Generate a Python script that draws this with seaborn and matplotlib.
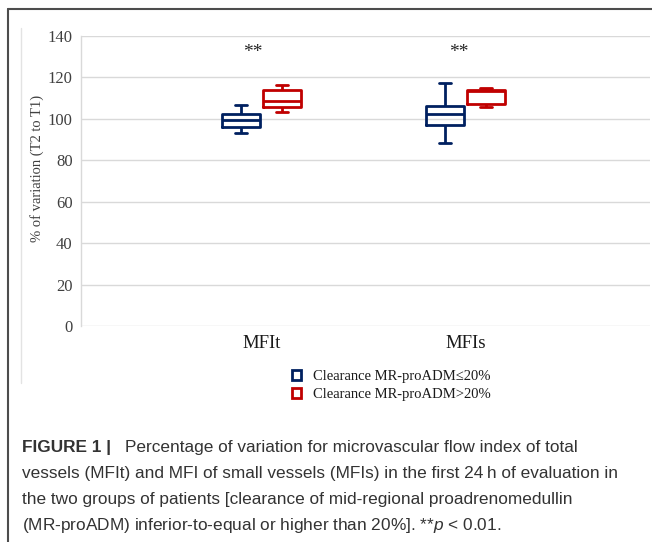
import matplotlib
matplotlib.use("Agg")
import matplotlib.pyplot as plt
from matplotlib.lines import Line2D
import pandas as pd
import seaborn as sns

# values (5-number summary per box: min, q1, median, q3, max)
categories = ['MFIt', 'MFIs']
groups = ['Clearance MR-proADM≤20%', 'Clearance MR-proADM>20%']
low_mfit = [93.2, 95.9, 99.6, 102.4, 106.5]
high_mfit = [103.3, 105.9, 108.6, 113.9, 116.5]
low_mfis = [88.4, 96.9, 102.5, 106.4, 117.3]
high_mfis = [106.0, 107.3, 113.3, 113.9, 114.9]
star_x = [-0.045, 0.965]
star_y = [132.0, 132.0]
star_text = ['**', '**']
y_ticks = [0, 20, 40, 60, 80, 100, 120, 140]

rows = []
for cat, grp, vals in [('MFIt', groups[0], low_mfit), ('MFIt', groups[1], high_mfit),
                       ('MFIs', groups[0], low_mfis), ('MFIs', groups[1], high_mfis)]:
    for v in vals:
        rows.append({'param': cat, 'group': grp, 'value': v})
df = pd.DataFrame(rows)

sns.set_theme(style='white')
plt.rcParams['font.family'] = ['Liberation Serif', 'DejaVu Serif']
plt.rcParams['mathtext.fontset'] = 'custom'
plt.rcParams['mathtext.it'] = 'Liberation Sans:italic'
plt.rcParams['mathtext.rm'] = 'Liberation Sans'

W, H = 652, 542
fig = plt.figure(figsize=(W / 100, H / 100), dpi=100)
fig.patch.set_facecolor('white')
ax = fig.add_axes([81 / W, 1 - 326.3 / H, (650 - 81) / W, (326.3 - 36) / H])

pal = {groups[0]: '#002060', groups[1]: '#C00000'}
sns.boxplot(data=df, x='param', y='value', hue='group', order=categories,
            hue_order=groups, palette=pal, fill=False, width=0.4, gap=0.08,
            linewidth=2.0, capwidths=0.062, ax=ax)

ax.set_xlim(-0.885, 1.904)
ax.set_ylim(0, 140)
ax.set_yticks(y_ticks)
ax.yaxis.grid(True, color='#d9d9d9', linewidth=1.0)
ax.set_axisbelow(True)
for s in ['top', 'right', 'bottom']:
    ax.spines[s].set_visible(False)
ax.spines['left'].set_color('#d9d9d9')
ax.spines['left'].set_linewidth(1.0)
ax.tick_params(axis='y', length=5, color='#d9d9d9', labelsize=12, labelcolor='#404040', pad=1)
ax.tick_params(axis='x', length=0, labelsize=13.5, labelcolor='#1a1a1a', pad=6)
ax.set_xlabel('')
ax.set_ylabel('')

for x, y, t in zip(star_x, star_y, star_text):
    ax.text(x, y, t, ha='center', va='center', fontsize=14, color='#262626')

fig.text(37 / W, 1 - 168 / H, '% of variation (T2 to T1)', rotation=90,
         ha='center', va='center', fontsize=10.5, color='#404040')

sns.move_legend(ax, 'upper left', bbox_to_anchor=(279 / W, 1 - 357 / H),
                bbox_transform=fig.transFigure, frameon=False, title=None,
                handlelength=0.6, handleheight=0.6, handletextpad=0.8,
                labelspacing=0.35, fontsize=10.5)
for t in ax.get_legend().get_texts():
    t.set_color('#1a1a1a')

# frame lines of the figure panel
fig.add_artist(Line2D([7.5 / W, 1], [1 - 8.5 / H, 1 - 8.5 / H], color='#4d4d4d', lw=1.5))
fig.add_artist(Line2D([7.5 / W, 7.5 / W], [0, 1 - 8.5 / H], color='#4d4d4d', lw=1.5))
fig.add_artist(Line2D([20.5 / W, 20.5 / W], [1 - 383 / H, 1 - 28 / H], color='#e3e3e3', lw=1.0))

# caption
cap = dict(family=['Liberation Sans', 'DejaVu Sans'], fontsize=12.4, color='#333333', va='baseline')
fig.text(22 / W, 1 - 452 / H, 'FIGURE 1 |', fontweight='bold', **cap)
fig.text(125 / W, 1 - 452 / H, 'Percentage of variation for microvascular flow index of total', **cap)
fig.text(22 / W, 1 - 478 / H, 'vessels (MFIt) and MFI of small vessels (MFIs) in the first 24\u2009h of evaluation in', **cap)
fig.text(22 / W, 1 - 504 / H, 'the two groups of patients [clearance of mid-regional proadrenomedullin', **cap)
fig.text(22 / W, 1 - 530 / H, '(MR-proADM) inferior-to-equal or higher than 20%]. **$p$ < 0.01.', **cap)

fig.savefig('out.png', dpi=100, facecolor='white')
